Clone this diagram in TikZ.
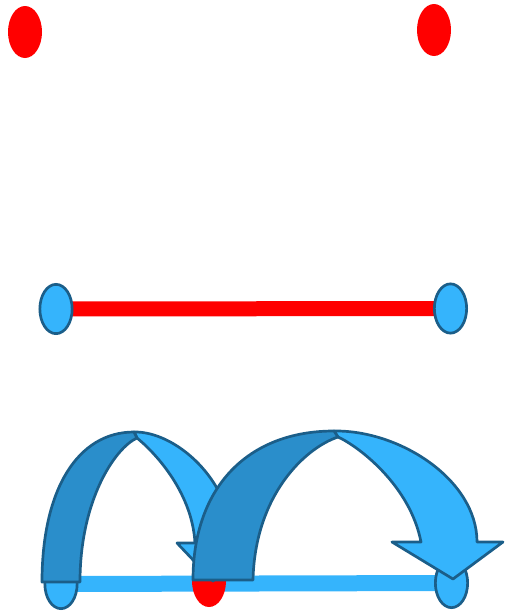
\documentclass[tikz,border=0pt]{standalone}
\usepackage{tikz}
\usepackage{xcolor}
\usetikzlibrary{shapes.geometric,backgrounds}
\definecolor{hopred}{HTML}{FF0000}
\definecolor{hopsky}{HTML}{35B4FC}
\definecolor{hopdeep}{HTML}{2A8ECB}
\definecolor{hopedge}{HTML}{1B5E89}
\tikzset{
  redDot/.style={ellipse, fill=hopred, inner sep=0pt, minimum width=34pt, minimum height=52pt},
  blueDot/.style={ellipse, draw=hopedge, line width=2.7pt, fill=hopsky, inner sep=0pt, minimum width=32.3pt, minimum height=49.3pt},
  redBar/.style={draw=hopred, line width=15pt},
  blueBar/.style={draw=hopsky, line width=16pt},
  frontBand/.style={fill=hopsky, draw=hopedge, line width=2.7pt, line join=round},
  backBand/.style={fill=hopdeep, draw=hopedge, line width=2.7pt, line join=round}
}
\begin{document}
\begin{tikzpicture}[x=1pt, y=-1pt]
  \useasboundingbox (0,0) rectangle (506,613);

  \node[redDot] (topL) at (25,32) {};
  \node[redDot] (topR) at (434,30) {};

  \node[blueDot] (midL) at (56,309) {};
  \node[blueDot] (midR) at (450.5,308.5) {};

  \node[blueDot] (lowL) at (61,584) {};
  \node[redDot] (lowM) at (209,581) {};
  \node[blueDot] (lowR) at (451.5,583) {};

  \begin{scope}[on background layer]
    \draw[redBar] (midL.center) -- (midR.center);
    \draw[blueBar] (lowL.center) -- (lowR.center);
  \end{scope}

  \draw[frontBand] (134,432) .. controls (175,431) and (232,480) .. (232,543) -- (249,543) -- (213,581) -- (177,543) -- (195,543)
    .. controls (192,490) and (152,450) .. (137,438) -- cycle;
  \draw[backBand] (42,582) .. controls (42,489) and (78,432) .. (134,432) -- (137,438)
    .. controls (115,448) and (80,500) .. (80,582) -- cycle;

  \draw[frontBand] (334,431) .. controls (400,430) and (477,480) .. (477,542) -- (503,542) -- (453,579) -- (392,542) -- (421,542)
    .. controls (410,485) and (358,446) .. (338,437) -- cycle;
  \draw[backBand] (193,580) .. controls (193,487) and (248,431) .. (334,431) -- (338,437)
    .. controls (305,448) and (255,495) .. (253,580) -- cycle;
\end{tikzpicture}
\end{document}
